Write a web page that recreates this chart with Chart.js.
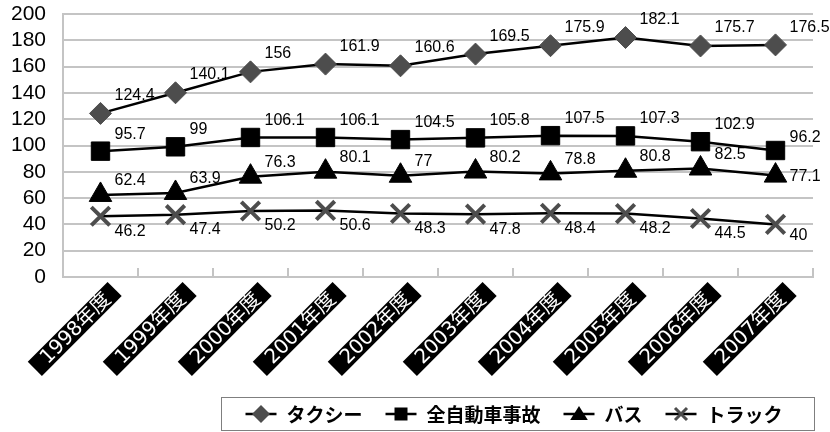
<!DOCTYPE html>
<html lang="ja">
<head>
<meta charset="utf-8">
<title>事故件数の推移</title>
<script src="https://cdn.jsdelivr.net/npm/chart.js@4/dist/chart.umd.min.js"></script>
<style>
  html, body { margin: 0; padding: 0; background: #ffffff; }
  #wrap { width: 830px; height: 432px; }
</style>
</head>
<body>
<div id="wrap"><canvas id="chart" width="830" height="432"></canvas></div>
<script>
// Fiscal years on the category axis
const categories = ['1998年度', '1999年度', '2000年度', '2001年度', '2002年度',
                    '2003年度', '2004年度', '2005年度', '2006年度', '2007年度'];

// Series names
const seriesNames = ['タクシー', '全自動車事故', 'バス', 'トラック'];

// Series values
const taxi         = [124.4, 140.1, 156, 161.9, 160.6, 169.5, 175.9, 182.1, 175.7, 176.5];
const allAccidents = [95.7, 99, 106.1, 106.1, 104.5, 105.8, 107.5, 107.3, 102.9, 96.2];
const bus          = [62.4, 63.9, 76.3, 80.1, 77, 80.2, 78.8, 80.8, 82.5, 77.1];
const truck        = [46.2, 47.4, 50.2, 50.6, 48.3, 47.8, 48.4, 48.2, 44.5, 40];

// Value axis
const yMin = 0;
const yMax = 200;
const yStep = 20;

const GRID = '#c4c4c4';
const MARK_GREY = '#4d4d4d';
const NUM_FONT = '"Liberation Sans", Arial, sans-serif';
const JP_FONT = '"Noto Sans CJK JP", sans-serif';

// Value labels next to each point (the last point's label sits to its right)
const valueLabels = {
  id: 'valueLabels',
  afterDatasetsDraw(chart) {
    const ctx = chart.ctx;
    ctx.save();
    ctx.font = '16px ' + NUM_FONT;
    ctx.fillStyle = '#000000';
    ctx.textAlign = 'left';
    ctx.textBaseline = 'middle';
    chart.data.datasets.forEach((ds, i) => {
      const meta = chart.getDatasetMeta(i);
      const last = meta.data.length - 1;
      meta.data.forEach((pt, j) => {
        const dy = j === last ? ds.labelDyLast : ds.labelDy;
        ctx.fillText(String(ds.data[j]), pt.x + 14, pt.y + dy);
      });
    });
    ctx.restore();
  }
};

// Short inward tick marks on the category axis at category boundaries
const innerTicks = {
  id: 'innerTicks',
  afterDraw(chart) {
    const { ctx, chartArea } = chart;
    const n = categories.length;
    const step = (chartArea.right - chartArea.left) / n;
    ctx.save();
    ctx.strokeStyle = GRID;
    ctx.lineWidth = 2;
    for (let k = 1; k <= n; k++) {
      const x = Math.round(chartArea.left + k * step);
      ctx.beginPath();
      ctx.moveTo(x, chartArea.bottom - 9);
      ctx.lineTo(x, chartArea.bottom);
      ctx.stroke();
    }
    ctx.restore();
  }
};

// Category labels: white text on black bars, rotated 45 degrees
const boxedCategoryLabels = {
  id: 'boxedCategoryLabels',
  afterDraw(chart) {
    const ctx = chart.ctx;
    const xs = chart.scales.x;
    const top = chart.chartArea.bottom + 12;
    const barH = 20, padL = 12, padR = 10;
    ctx.save();
    ctx.font = '20px "DejaVu Sans", ' + JP_FONT;
    ctx.textAlign = 'right';
    ctx.textBaseline = 'middle';
    categories.forEach((label, i) => {
      const x = xs.getPixelForTick(i);
      const w = ctx.measureText(label).width;
      ctx.save();
      ctx.translate(x, top);
      ctx.rotate(-Math.PI / 4);
      ctx.fillStyle = '#000000';
      ctx.fillRect(-w - padL, 0, w + padL + padR, barH);
      ctx.fillStyle = '#ffffff';
      ctx.fillText(label, 0, barH / 2 + 1);
      ctx.restore();
    });
    ctx.restore();
  }
};

function drawMarker(ctx, style, x, y, r, color) {
  ctx.save();
  ctx.fillStyle = color;
  ctx.strokeStyle = color;
  ctx.beginPath();
  if (style === 'rectRot') {
    ctx.moveTo(x, y - r); ctx.lineTo(x + r, y); ctx.lineTo(x, y + r); ctx.lineTo(x - r, y);
    ctx.closePath(); ctx.fill();
  } else if (style === 'rect') {
    ctx.rect(x - r, y - r, 2 * r, 2 * r); ctx.fill();
  } else if (style === 'triangle') {
    ctx.moveTo(x, y - r); ctx.lineTo(x + r * 1.1, y + r * 0.75); ctx.lineTo(x - r * 1.1, y + r * 0.75);
    ctx.closePath(); ctx.fill();
  } else if (style === 'crossRot') {
    ctx.lineWidth = 3;
    ctx.moveTo(x - r, y - r); ctx.lineTo(x + r, y + r);
    ctx.moveTo(x + r, y - r); ctx.lineTo(x - r, y + r);
    ctx.stroke();
  }
  ctx.restore();
}

// Boxed legend with line-and-marker symbols
const boxLegend = {
  id: 'boxLegend',
  afterDraw(chart) {
    const ctx = chart.ctx;
    const box = { left: 221, top: 397, right: 815, bottom: 431 };
    ctx.save();
    ctx.strokeStyle = '#7f7f7f';
    ctx.lineWidth = 1;
    ctx.strokeRect(box.left + 0.5, box.top + 0.5, box.right - box.left - 1, box.bottom - box.top - 1);
    ctx.font = 'bold 19px ' + JP_FONT;
    ctx.textBaseline = 'middle';
    ctx.textAlign = 'left';
    const symW = 31, gapText = 10, gapItem = 23;
    const widths = chart.data.datasets.map(ds => ctx.measureText(ds.label).width);
    let total = 0;
    widths.forEach((w, i) => { total += symW + gapText + w + (i < widths.length - 1 ? gapItem : 0); });
    let x = (box.left + box.right) / 2 - total / 2 - 4;
    const y = (box.top + box.bottom) / 2;
    const sizes = { rectRot: 9, rect: 6.5, triangle: 8, crossRot: 6 };
    chart.data.datasets.forEach((ds, i) => {
      ctx.strokeStyle = '#000000';
      ctx.lineWidth = 2.5;
      ctx.beginPath();
      ctx.moveTo(x, y); ctx.lineTo(x + symW, y);
      ctx.stroke();
      drawMarker(ctx, ds.pointStyle, x + symW / 2, y, sizes[ds.pointStyle], ds.pointBackgroundColor);
      x += symW + gapText;
      ctx.fillStyle = '#000000';
      ctx.fillText(ds.label, x, y + 1);
      x += widths[i] + gapItem;
    });
    ctx.restore();
  }
};

const datasets = [
  { label: seriesNames[0], data: taxi, pointStyle: 'rectRot', pointRadius: 11,
    pointBackgroundColor: MARK_GREY, pointBorderColor: MARK_GREY, pointBorderWidth: 1,
    labelDy: -18, labelDyLast: -17 },
  { label: seriesNames[1], data: allAccidents, pointStyle: 'rect', pointRadius: 13,
    pointBackgroundColor: '#000000', pointBorderColor: '#000000', pointBorderWidth: 1,
    labelDy: -17, labelDyLast: -13 },
  { label: seriesNames[2], data: bus, pointStyle: 'triangle', pointRadius: 13,
    pointBackgroundColor: '#000000', pointBorderColor: '#000000', pointBorderWidth: 1,
    labelDy: -14, labelDyLast: 1 },
  { label: seriesNames[3], data: truck, pointStyle: 'crossRot', pointRadius: 13,
    pointBackgroundColor: MARK_GREY, pointBorderColor: MARK_GREY, pointBorderWidth: 4,
    labelDy: 15, labelDyLast: 11 }
].map(d => Object.assign({
  borderColor: '#000000',
  borderWidth: 2.5,
  fill: false,
  tension: 0,
  pointHoverRadius: d.pointRadius
}, d));

new Chart(document.getElementById('chart'), {
  type: 'line',
  data: { labels: categories, datasets },
  options: {
    responsive: false,
    animation: false,
    events: [],
    layout: { autoPadding: false, padding: { top: 14, right: 17, bottom: 0, left: 0 } },
    plugins: {
      legend: { display: false },
      tooltip: { enabled: false }
    },
    scales: {
      x: {
        offset: true,
        grid: { display: false },
        border: { display: true, color: GRID, width: 2 },
        afterFit(scale) {
          scale.height = 155;
          scale.paddingTop = 0;
          scale.paddingBottom = 0;
        },
        ticks: { display: false }
      },
      y: {
        min: yMin,
        max: yMax,
        grid: { color: GRID, lineWidth: 2, drawTicks: false },
        border: { display: true, color: GRID, width: 2 },
        afterFit(scale) {
          scale.width = 63;
          scale.paddingTop = 0;
          scale.paddingBottom = 0;
        },
        ticks: {
          stepSize: yStep,
          autoSkip: false,
          padding: 17,
          color: '#000000',
          font: { family: NUM_FONT, size: 21 }
        }
      }
    }
  },
  plugins: [valueLabels, innerTicks, boxedCategoryLabels, boxLegend]
});
</script>
</body>
</html>
